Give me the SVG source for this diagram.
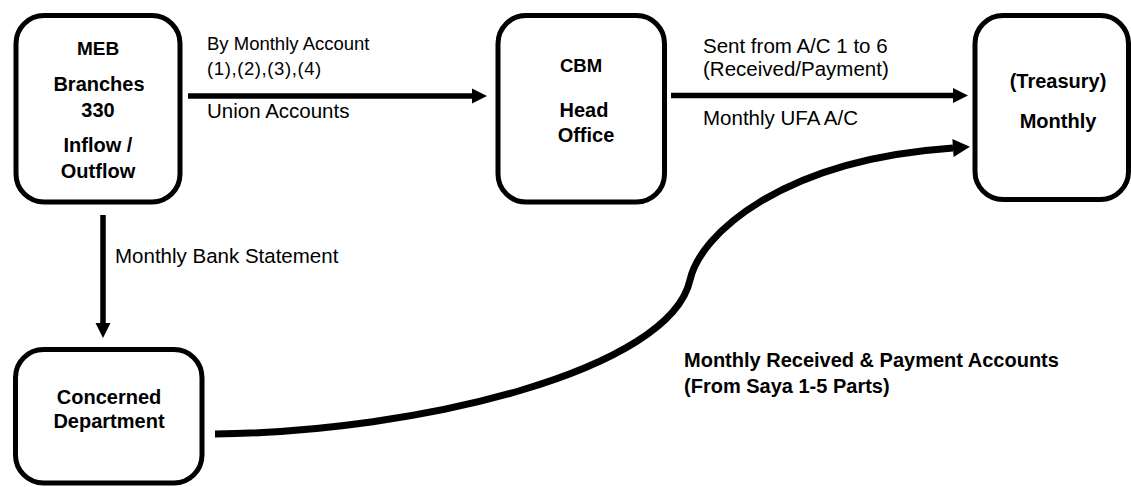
<svg xmlns="http://www.w3.org/2000/svg" width="1131" height="487" viewBox="0 0 1131 487">
<style>
.box{fill:#fff;stroke:#000;stroke-width:5}
.t{font-family:"Liberation Sans",Arial,sans-serif;font-size:20.5px;fill:#000}
.s{font-size:18.5px}
.b{font-family:"Liberation Sans",Arial,sans-serif;font-weight:bold;font-size:20px;fill:#000}
.c{text-anchor:middle}
.ln{fill:none;stroke:#000;stroke-width:5.5}
.cv{fill:none;stroke:#000;stroke-width:7}
</style>
<defs>
<marker id="ah" markerUnits="userSpaceOnUse" markerWidth="16" markerHeight="16" refX="0" refY="8" orient="auto" overflow="visible">
<path d="M0,0.5 L15,8 L0,15.5 z" fill="#000"/>
</marker>
<marker id="ah2" markerUnits="userSpaceOnUse" markerWidth="18" markerHeight="20" refX="0" refY="9" orient="auto" overflow="visible">
<path d="M0,0 L17,9 L0,18 z" fill="#000"/>
</marker>
</defs>
<g id="meb">
<rect class="box" x="16" y="15.5" width="164" height="186.5" rx="28"/>
<text class="b c" x="98" y="55" style="font-size:19px">MEB</text>
<text class="b c" x="99" y="91">Branches</text>
<text class="b c" x="98" y="117">330</text>
<text class="b c" x="98" y="152">Inflow /</text>
<text class="b c" x="98" y="178">Outflow</text>
</g>
<g id="cbm">
<rect class="box" x="498" y="15.5" width="166.5" height="186.5" rx="28"/>
<text class="b c" x="581" y="72" style="font-size:18.5px">CBM</text>
<text class="b c" x="584" y="117">Head</text>
<text class="b c" x="586" y="142">Office</text>
</g>
<g id="treasury">
<rect class="box" x="975" y="15.5" width="153.5" height="184" rx="28"/>
<text class="b c" x="1058" y="88">(Treasury)</text>
<text class="b c" x="1058" y="128">Monthly</text>
</g>
<g id="dept">
<rect class="box" x="15.5" y="349.5" width="186.5" height="133.5" rx="28"/>
<text class="b c" x="109" y="404">Concerned</text>
<text class="b c" x="109" y="428">Department</text>
</g>
<g id="connectors">
<line class="ln" x1="188" y1="96" x2="472" y2="96" marker-end="url(#ah)"/>
<line class="ln" x1="671" y1="95.5" x2="953" y2="95.5" marker-end="url(#ah)"/>
<line class="ln" x1="103" y1="215" x2="103" y2="323" marker-end="url(#ah)"/>
<path class="cv" d="M215,434 C420,432 670,370 690,280 C700,235 780,160 953,148" marker-end="url(#ah2)"/>
</g>
<g id="labels">
<text class="t s" x="207" y="50">By Monthly Account</text>
<text class="t s" x="207" y="75" letter-spacing="0.6">(1),(2),(3),(4)</text>
<text class="t" x="207" y="118">Union Accounts</text>
<text class="t" x="703" y="53">Sent from A/C 1 to 6</text>
<text class="t" x="703" y="76">(Received/Payment)</text>
<text class="t" x="703" y="125">Monthly UFA A/C</text>
<text class="t" x="115" y="263">Monthly Bank Statement</text>
<text class="b" x="684" y="367">Monthly Received &amp; Payment Accounts</text>
<text class="b" x="684" y="393">(From Saya 1-5 Parts)</text>
</g>
</svg>
